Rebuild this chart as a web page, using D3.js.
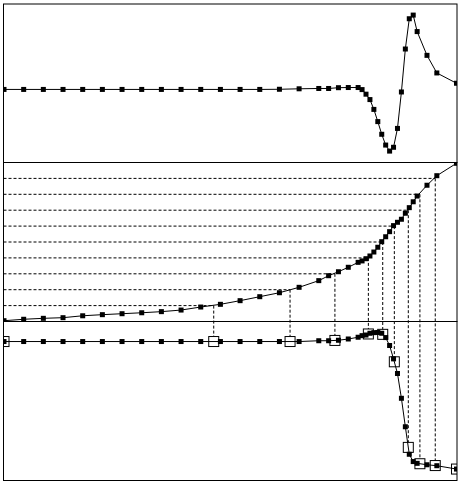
<!DOCTYPE html>
<html>
<head>
<meta charset="utf-8">
<script src="https://cdn.jsdelivr.net/npm/d3@7"></script>
<style>
  body { margin: 0; background: #fff; }
  svg { display: block; }
</style>
</head>
<body>
<svg id="chart" width="461" height="485"></svg>
<script>
// sample positions (adaptive, denser where the signal changes)
const xs = [0, 1, 2, 3, 4, 5, 6, 7, 8, 9, 10, 11, 12, 13, 14, 15, 16, 16.5, 17, 17.5, 18,
  18.2, 18.4, 18.6, 18.8, 19, 19.2, 19.4, 19.6, 19.8, 20, 20.2, 20.4, 20.6, 20.8, 21,
  21.5, 22, 23];

// top panel
const topValues = [0.461, 0.461, 0.461, 0.461, 0.461, 0.461, 0.461, 0.461, 0.461, 0.461,
  0.461, 0.461, 0.461, 0.461, 0.462, 0.465, 0.467, 0.467, 0.472, 0.473, 0.473,
  0.460, 0.431, 0.397, 0.335, 0.258, 0.178, 0.110, 0.072, 0.096, 0.215, 0.445,
  0.716, 0.907, 0.930, 0.826, 0.676, 0.565, 0.500];

// middle panel (cumulative)
const cumValues = [0.005, 0.014, 0.020, 0.024, 0.036, 0.043, 0.049, 0.055, 0.062, 0.072,
  0.091, 0.108, 0.131, 0.156, 0.181, 0.215, 0.257, 0.288, 0.313, 0.341, 0.372,
  0.381, 0.395, 0.412, 0.437, 0.467, 0.502, 0.533, 0.565, 0.603, 0.624, 0.643,
  0.681, 0.716, 0.753, 0.789, 0.857, 0.917, 0.995];

// bottom panel
const bottomValues = [0.874, 0.874, 0.874, 0.874, 0.874, 0.874, 0.874, 0.874, 0.874, 0.874,
  0.874, 0.874, 0.874, 0.874, 0.874, 0.874, 0.879, 0.879, 0.882, 0.890, 0.901,
  0.911, 0.915, 0.926, 0.930, 0.931, 0.926, 0.899, 0.849, 0.765, 0.673, 0.517,
  0.338, 0.165, 0.119, 0.108, 0.099, 0.093, 0.072];

// quantile levels and where the cumulative curve reaches them
const levels = [0, 0.1, 0.2, 0.3, 0.4, 0.5, 0.6, 0.7, 0.8, 0.9, 1];
const quantileX = [0, 10.66, 14.54, 16.82, 18.52, 19.25, 19.84, 20.55, 21.14, 21.92, 23];

const svg = d3.select("#chart");
const left = 3.5, right = 457;
const panels = [
  { id: "p-top", y0: 4, y1: 162.5, values: topValues },
  { id: "p-mid", y0: 162.5, y1: 321.5, values: cumValues },
  { id: "p-bot", y0: 321.5, y1: 480.5, values: bottomValues },
];

const x = d3.scaleLinear().domain([0, 23]).range([4, 456.5]);
panels.forEach((p) => {
  p.y = d3.scaleLinear().domain([0, 1]).range([p.y1, p.y0]);
});
const yMid = panels[1].y;
const yBot = panels[2].y;

function interp(xv, ys) {
  const i = d3.bisectRight(xs, xv);
  if (i <= 0) return ys[0];
  if (i >= xs.length) return ys[xs.length - 1];
  const t = (xv - xs[i - 1]) / (xs[i] - xs[i - 1]);
  return ys[i - 1] + t * (ys[i] - ys[i - 1]);
}

const defs = svg.append("defs");
panels.forEach((p) => {
  defs.append("clipPath").attr("id", p.id)
    .append("rect")
    .attr("x", left).attr("y", p.y0)
    .attr("width", right - left).attr("height", p.y1 - p.y0);
});

// dashed guides: level -> curve -> bottom signal
const guides = svg.append("g")
  .attr("stroke", "#000")
  .attr("stroke-width", 1)
  .attr("stroke-dasharray", "3,2")
  .attr("fill", "none");

levels.forEach((lv, i) => {
  if (i === 0 || i === levels.length - 1) return;
  const qx = x(quantileX[i]);
  guides.append("line")
    .attr("x1", left).attr("x2", qx)
    .attr("y1", yMid(lv)).attr("y2", yMid(lv));
  guides.append("line")
    .attr("x1", qx).attr("x2", qx)
    .attr("y1", yMid(lv))
    .attr("y2", yBot(interp(quantileX[i], bottomValues)) - 5);
});

// curves with markers
panels.forEach((p) => {
  const g = svg.append("g").attr("clip-path", `url(#${p.id})`);
  const line = d3.line()
    .x((d, i) => x(xs[i]))
    .y((d) => p.y(d));
  g.append("path")
    .datum(p.values)
    .attr("fill", "none")
    .attr("stroke", "#000")
    .attr("stroke-width", 1)
    .attr("d", line);
  g.selectAll("rect.pt")
    .data(p.values)
    .enter()
    .append("rect")
    .attr("class", "pt")
    .attr("x", (d, i) => x(xs[i]) - 2.5)
    .attr("y", (d) => p.y(d) - 2.5)
    .attr("width", 5)
    .attr("height", 5)
    .attr("fill", "#000");
  p.g = g;
});

// open squares on the bottom signal at the quantile positions
panels[2].g.selectAll("rect.q")
  .data(quantileX)
  .enter()
  .append("rect")
  .attr("class", "q")
  .attr("x", (d) => x(d) - 5)
  .attr("y", (d) => yBot(interp(d, bottomValues)) - 5)
  .attr("width", 10)
  .attr("height", 10)
  .attr("fill", "none")
  .attr("stroke", "#000")
  .attr("stroke-width", 1);

// panel frames
svg.append("g")
  .selectAll("rect")
  .data(panels)
  .enter()
  .append("rect")
  .attr("x", left)
  .attr("y", (d) => d.y0)
  .attr("width", right - left)
  .attr("height", (d) => d.y1 - d.y0)
  .attr("fill", "none")
  .attr("stroke", "#000")
  .attr("stroke-width", 1);
</script>
</body>
</html>
